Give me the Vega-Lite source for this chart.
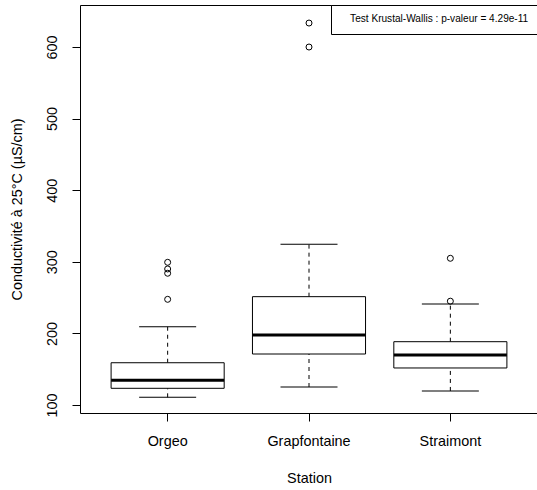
{
  "$schema": "https://vega.github.io/schema/vega-lite/v6.json",
  "width": 458,
  "height": 408,
  "autosize": "none",
  "padding": {"left": 80, "top": 5, "right": 0, "bottom": 77},
  "background": "white",
  "datasets": {
    "boxes": [
      {"station": "Orgeo", "lo": 110.7, "q1": 123.3, "med": 134.5, "q3": 159.0, "hi": 209.4},
      {"station": "Grapfontaine", "lo": 125.1, "q1": 171.2, "med": 197.8, "q3": 251.3, "hi": 324.4},
      {"station": "Straimont", "lo": 119.6, "q1": 151.7, "med": 169.8, "q3": 188.4, "hi": 241.0}
    ],
    "outliers": [
      {"station": "Orgeo", "value": 299.3},
      {"station": "Orgeo", "value": 290.0},
      {"station": "Orgeo", "value": 284.0},
      {"station": "Orgeo", "value": 247.6},
      {"station": "Grapfontaine", "value": 633.5},
      {"station": "Grapfontaine", "value": 600.0},
      {"station": "Straimont", "value": 304.9},
      {"station": "Straimont", "value": 245.0}
    ]
  },
  "encoding": {
    "x": {
      "field": "station",
      "type": "nominal",
      "sort": ["Orgeo", "Grapfontaine", "Straimont"],
      "scale": {"type": "band", "paddingInner": 0.2, "paddingOuter": 0.22},
      "axis": {
        "title": "Station",
        "labelAngle": 0,
        "domain": false,
        "grid": false,
        "tickSize": 8,
        "labelPadding": 13,
        "titlePadding": 24
      }
    }
  },
  "layer": [
    {
      "data": {"name": "boxes"},
      "mark": {"type": "rule", "color": "black", "strokeWidth": 1, "strokeDash": [4, 4]},
      "encoding": {
        "y": {
          "field": "lo",
          "type": "quantitative",
          "scale": {"domain": [88.8, 658.7], "nice": false, "zero": false},
          "axis": {
            "title": "Conductivité à 25°C (µS/cm)",
            "values": [100, 200, 300, 400, 500, 600],
            "labelAngle": -90,
            "domain": false,
            "grid": false,
            "tickSize": 8,
            "labelPadding": 13,
            "titlePadding": 20
          }
        },
        "y2": {"field": "q1"}
      }
    },
    {
      "data": {"name": "boxes"},
      "mark": {"type": "rule", "color": "black", "strokeWidth": 1, "strokeDash": [4, 4]},
      "encoding": {
        "y": {"field": "q3", "type": "quantitative"},
        "y2": {"field": "hi"}
      }
    },
    {
      "data": {"name": "boxes"},
      "mark": {"type": "tick", "color": "black", "size": 57, "thickness": 1, "opacity": 1},
      "encoding": {"y": {"field": "lo", "type": "quantitative"}}
    },
    {
      "data": {"name": "boxes"},
      "mark": {"type": "tick", "color": "black", "size": 57, "thickness": 1, "opacity": 1},
      "encoding": {"y": {"field": "hi", "type": "quantitative"}}
    },
    {
      "data": {"name": "boxes"},
      "mark": {"type": "bar", "fill": "white", "stroke": "black", "strokeWidth": 1},
      "encoding": {
        "y": {"field": "q1", "type": "quantitative"},
        "y2": {"field": "q3"}
      }
    },
    {
      "data": {"name": "boxes"},
      "mark": {"type": "tick", "color": "black", "size": 113, "thickness": 3, "opacity": 1},
      "encoding": {"y": {"field": "med", "type": "quantitative"}}
    },
    {
      "data": {"name": "outliers"},
      "mark": {"type": "point", "shape": "circle", "size": 36, "filled": false, "strokeWidth": 1, "opacity": 1},
      "encoding": {
        "y": {"field": "value", "type": "quantitative"},
        "stroke": {
          "datum": "Test Krustal-Wallis : p-valeur = 4.29e-11",
          "type": "nominal",
          "scale": {"range": ["black"]},
          "legend": {"title": null}
        }
      }
    }
  ],
  "config": {
    "font": "Liberation Sans",
    "view": {"stroke": "black", "strokeWidth": 1},
    "axis": {
      "labelFont": "Liberation Sans",
      "titleFont": "Liberation Sans",
      "labelFontSize": 14.4,
      "titleFontSize": 14.4,
      "titleFontWeight": "normal",
      "labelColor": "black",
      "titleColor": "black",
      "tickColor": "black",
      "labelFlush": false,
      "labelOverlap": false
    },
    "legend": {
      "orient": "top-right",
      "offset": 0,
      "padding": 9,
      "strokeColor": "black",
      "fillColor": "white",
      "symbolOpacity": 0,
      "symbolSize": 16,
      "labelOffset": 0,
      "labelFont": "Liberation Sans",
      "labelFontSize": 10.1,
      "labelColor": "black",
      "labelLimit": 400
    }
  }
}
